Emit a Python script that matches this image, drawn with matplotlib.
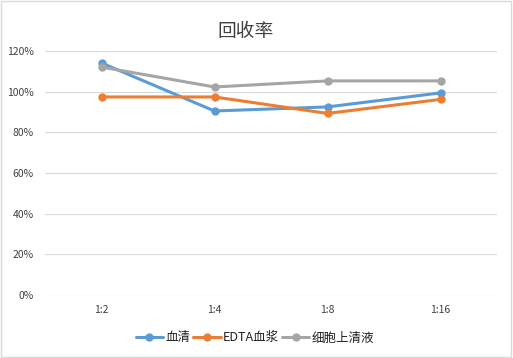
import matplotlib
matplotlib.use("Agg")
import matplotlib.pyplot as plt
from matplotlib.ticker import PercentFormatter
from matplotlib.patches import Rectangle

plt.rcParams['font.family'] = ['Noto Sans CJK SC', 'DejaVu Sans']

categories = ["1:2", "1:4", "1:8", "1:16"]
serum = [114.1, 90.5, 92.5, 99.4]
edta_plasma = [97.4, 97.4, 89.3, 96.2]
supernatant = [112.1, 102.3, 105.3, 105.3]
series_names = ["血清", "EDTA血浆", "细胞上清液"]
colors = ["#5B9BD5", "#ED7D31", "#A5A5A5"]

fig = plt.figure(figsize=(5.13, 3.58), dpi=100)
fig.patches.append(Rectangle((0.002, 0.003), 0.995, 0.994, transform=fig.transFigure,
                             fill=False, edgecolor="#D9D9D9", linewidth=1.0))
ax = fig.add_axes([45/513, 1-295/358, 452/513, (295-51)/358])

x = list(range(len(categories)))
for vals, name, c in zip([serum, edta_plasma, supernatant], series_names, colors):
    ax.plot(x, vals, color=c, linewidth=2.2, marker='o', markersize=5, label=name,
            solid_capstyle='round')

ax.set_xlim(-0.5, len(categories) - 0.5)
ax.set_ylim(0, 120)
ax.set_yticks(range(0, 121, 20))
ax.yaxis.set_major_formatter(PercentFormatter(decimals=0))
ax.set_xticks(x)
ax.set_xticklabels(categories)
ax.grid(axis='y', color="#D9D9D9", linewidth=0.8)
ax.set_axisbelow(True)
for s in ax.spines.values():
    s.set_visible(False)
ax.tick_params(axis='both', length=0, labelsize=7.5, colors="#404040")
ax.tick_params(axis='x', pad=7)
ax.tick_params(axis='y', pad=8)

fig.text(246/513, 1-31/358, "回收率", ha='center', va='center', fontsize=13.5, color="#404040")

ax.legend(loc='center', bbox_to_anchor=(255/513, 1-338/358), bbox_transform=fig.transFigure,
          ncol=3, frameon=False, fontsize=9, handlelength=2.2, handletextpad=0.2,
          columnspacing=0.2, labelcolor="#202020")

fig.savefig("out.png", dpi=100)
